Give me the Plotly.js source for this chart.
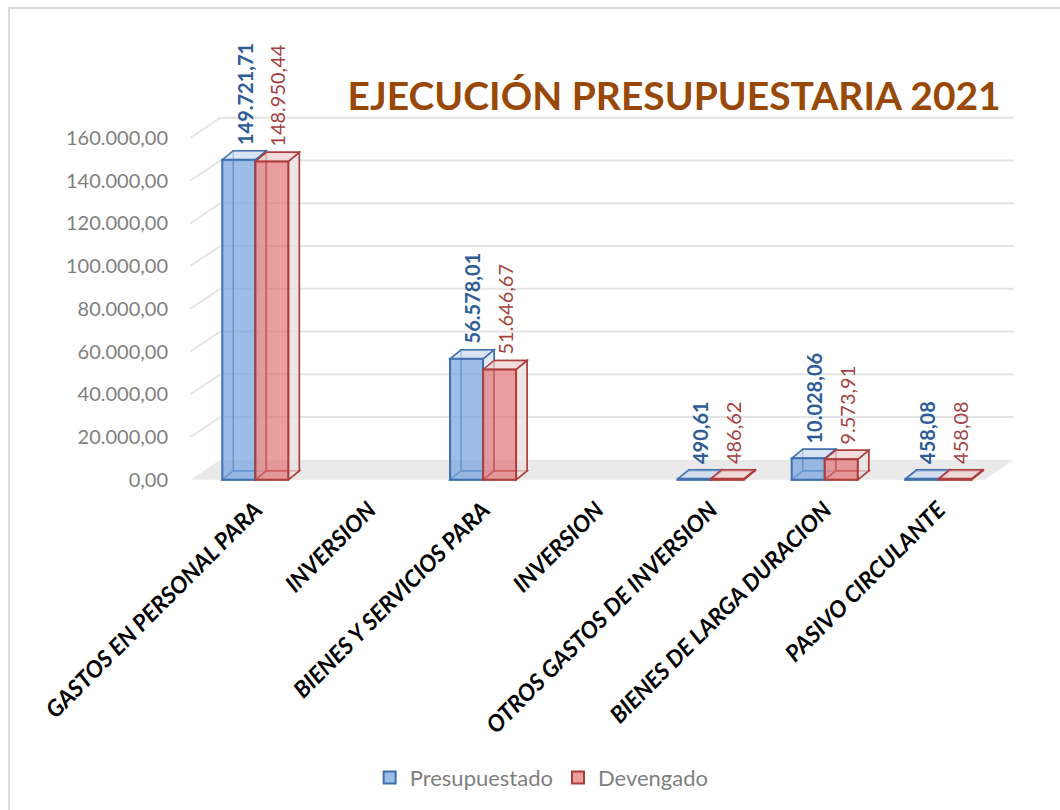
<!DOCTYPE html>
<html>
<head>
<meta charset="utf-8">
<script src="https://cdn.plot.ly/plotly-3.0.1.min.js"></script>
<style>
  body { margin: 0; background: #fff; }
  #chart { width: 1060px; height: 810px; }
  #frame { position: absolute; left: 8px; top: 7px; width: 1060px; height: 810px;
           border-left: 2px solid #dcdcdc; border-top: 2px solid #dcdcdc; pointer-events: none; }
</style>
</head>
<body>
<div id="chart"></div>
<div id="frame"></div>
<script>
// data
var categories = ['GASTOS EN PERSONAL PARA', 'INVERSION', 'BIENES Y SERVICIOS PARA', 'INVERSION',
                  'OTROS GASTOS DE INVERSION', 'BIENES DE LARGA DURACION', 'PASIVO CIRCULANTE'];
var presupuestado = [149721.71, null, 56578.01, null, 490.61, 10028.06, 458.08];
var devengado = [148950.44, null, 51646.67, null, 486.62, 9573.91, 458.08];
var yTicks = [0, 20000, 40000, 60000, 80000, 100000, 120000, 140000, 160000];

var idx = categories.map(function(c, i) { return i; });

// page geometry (pixels)
var W = 1060, H = 810;
var catPx = 114, cat0Px = 255;
var xMin = -0.6, xMax = 6.75;
var zeroPx = 480, k = 342 / 160000;   // pixels per unit on y
var yMin = -1500, yMax = 180000;
var mL = cat0Px + xMin * catPx, mR = W - (cat0Px + xMax * catPx);
var mB = H - (zeroPx - yMin * k), mT = zeroPx - yMax * k;

// depth of the fake 3d
var barW = 0.29;
var bdx = 11 / catPx, bdy = 9 / k;
var wdx = 30 / catPx, wdy = 20 / k;
var xFL = -0.57, xFR = 6.40;

// spanish number format 1.234,56
function fmt(v) {
  var p = v.toFixed(2).split('.');
  return p[0].replace(/\B(?=(\d{3})+(?!\d))/g, '.') + ',' + p[1];
}

var shapes = [];
// floor
shapes.push({type: 'path', layer: 'below', xref: 'x', yref: 'y',
  path: 'M' + xFL + ',0 L' + xFR + ',0 L' + (xFR + wdx) + ',' + wdy + ' L' + (xFL + wdx) + ',' + wdy + ' Z',
  fillcolor: '#e9e9e9', line: {width: 0}});
// gridlines going back into the wall
yTicks.forEach(function(v) {
  if (v === 0) return;
  shapes.push({type: 'line', layer: 'below', xref: 'x', yref: 'y',
    x0: xFL, y0: v, x1: xFL + wdx, y1: v + wdy, line: {color: '#e4e4e4', width: 2}});
  shapes.push({type: 'line', layer: 'below', xref: 'x', yref: 'y',
    x0: xFL + wdx, y0: v + wdy, x1: xFR + wdx, y1: v + wdy, line: {color: '#e4e4e4', width: 2}});
});

var series = [
  {name: 'Presupuestado', vals: presupuestado, off: -barW, edge: '#3f6fae',
   front: 'rgba(118,163,222,0.72)', top: 'rgba(205,218,238,0.75)', side: 'rgba(218,228,242,0.7)',
   label: '#2f5d98', bold: true},
  {name: 'Devengado', vals: devengado, off: 0, edge: '#ad3d3d',
   front: 'rgba(226,112,112,0.68)', top: 'rgba(238,208,208,0.75)', side: 'rgba(234,222,222,0.75)',
   label: '#a53f3f', bold: false}
];

function poly(pts) {
  return 'M' + pts.map(function(p) { return p[0] + ',' + p[1]; }).join(' L') + ' Z';
}

var annotations = [];
var traces = [];
series.forEach(function(s) {
  s.vals.forEach(function(v, i) {
    if (v === null) return;
    var xl = i + s.off, xr = xl + barW;
    var ln = {color: s.edge, width: 1.5};
    // back face
    shapes.push({type: 'path', layer: 'below', xref: 'x', yref: 'y', line: ln,
      path: poly([[xl + bdx, bdy], [xl + bdx, v + bdy], [xr + bdx, v + bdy], [xr + bdx, bdy]])});
    // bottom face
    shapes.push({type: 'path', layer: 'below', xref: 'x', yref: 'y', line: ln,
      path: poly([[xl, 0], [xr, 0], [xr + bdx, bdy], [xl + bdx, bdy]])});
    // side face
    shapes.push({type: 'path', layer: 'below', xref: 'x', yref: 'y', line: ln, fillcolor: s.side,
      path: poly([[xr, 0], [xr, v], [xr + bdx, v + bdy], [xr + bdx, bdy]])});
    // top face
    shapes.push({type: 'path', layer: 'below', xref: 'x', yref: 'y', line: ln, fillcolor: s.top,
      path: poly([[xl, v], [xr, v], [xr + bdx, v + bdy], [xl + bdx, v + bdy]])});
    annotations.push({x: xl + barW / 2 + bdx / 2, y: v + bdy, xref: 'x', yref: 'y',
      text: s.bold ? '<b>' + fmt(v) + '</b>' : fmt(v), showarrow: false, textangle: -90,
      xanchor: 'center', yanchor: 'bottom', yshift: 4,
      font: {family: 'Lato', size: 20, color: s.label}});
  });
  traces.push({type: 'bar', name: s.name, x: idx, y: s.vals, width: barW, offset: s.off,
    marker: {color: s.front, line: {color: s.edge, width: 2}}, hoverinfo: 'none'});
});

var layout = {
  width: W, height: H,
  margin: {l: mL, r: mR, t: mT, b: mB},
  paper_bgcolor: '#fff', plot_bgcolor: 'rgba(0,0,0,0)',
  barmode: 'overlay',
  separators: ',.',
  font: {family: 'Lato', color: '#7f7f7f'},
  title: {text: 'EJECUCIÓN PRESUPUESTARIA 2021', xref: 'container', yref: 'container',
    x: 0.636, xanchor: 'center', y: 0.881, yanchor: 'middle',
    font: {family: 'Lato', size: 39, weight: 'bold', color: '#984807'}},
  xaxis: {range: [xMin, xMax], tickvals: idx, ticktext: categories, tickangle: -45,
    showgrid: false, zeroline: false, showline: false, ticks: '', ticklabelstandoff: 8,
    tickfont: {family: 'Lato', size: 23, weight: 'bold', style: 'italic', color: '#000'}},
  yaxis: {range: [yMin, yMax], tickvals: yTicks, tickformat: ',.2f',
    showgrid: false, zeroline: false, showline: false, ticks: '', ticklabelstandoff: 18,
    tickfont: {family: 'Lato', size: 20, color: '#7f7f7f'}},
  legend: {orientation: 'h', xref: 'container', yref: 'container', x: 0.511, xanchor: 'center',
    y: 0.04, yanchor: 'middle', font: {family: 'Lato', size: 22, color: '#7f7f7f'}},
  shapes: shapes,
  annotations: annotations
};

Plotly.newPlot('chart', traces, layout, {displayModeBar: false, staticPlot: true});
</script>
</body>
</html>
